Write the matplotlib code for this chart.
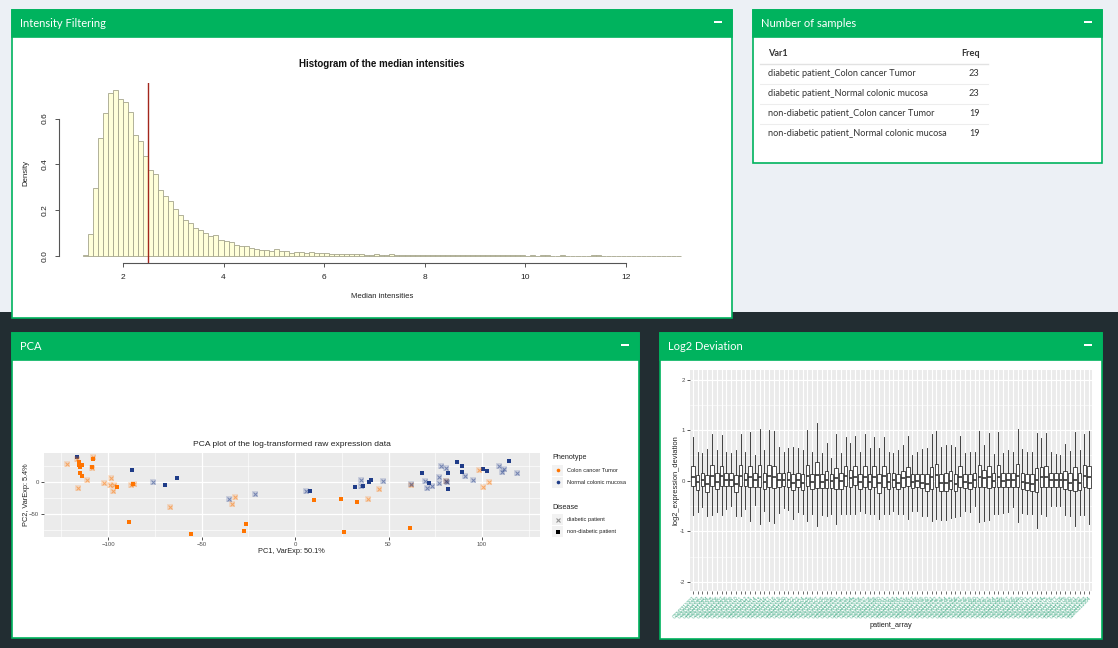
import numpy as np
import matplotlib
matplotlib.use("Agg")
import matplotlib.pyplot as plt
from matplotlib.patches import Rectangle

# ---------------- data ----------------
hist_bin_start = 1.2
hist_bin_width = 0.1
hist_density = [
    0.005, 0.097, 0.295, 0.515, 0.625, 0.713, 0.726, 0.685, 0.672, 0.629,
    0.528, 0.502, 0.437, 0.376, 0.356, 0.290, 0.263, 0.242, 0.207, 0.178,
    0.157, 0.145, 0.122, 0.113, 0.101, 0.089, 0.092, 0.070, 0.067, 0.059,
    0.048, 0.045, 0.043, 0.035, 0.032, 0.026, 0.026, 0.023, 0.031, 0.023,
    0.023, 0.015, 0.019, 0.016, 0.015, 0.019, 0.013, 0.013, 0.013, 0.009,
    0.009, 0.009, 0.009, 0.009, 0.008, 0.008, 0.006, 0.006, 0.008, 0.006,
    0.004, 0.007, 0.005, 0.005, 0.005, 0.005, 0.004, 0.004, 0.005, 0.004,
    0.003, 0.003, 0.003, 0.003, 0.003, 0.004, 0.004, 0.003, 0.002, 0.003,
    0.002, 0.003, 0.002, 0.002, 0.003, 0.002, 0.003, 0.002, 0.001, 0.002,
    0.001, 0.002, 0.002, 0.001, 0.001, 0.003, 0.001, 0.001, 0.001, 0.001,
    0.001, 0.002, 0.002, 0.001, 0.001, 0.001, 0.001, 0.001, 0.001, 0.001,
    0.001, 0.0005, 0.001, 0.0005, 0.0005, 0.001, 0.0005, 0.0005, 0.0005,
]
hist_cutoff = 2.5

table_var1 = [
    "diabetic patient_Colon cancer Tumor",
    "diabetic patient_Normal colonic mucosa",
    "non-diabetic patient_Colon cancer Tumor",
    "non-diabetic patient_Normal colonic mucosa",
]
table_freq = [23, 23, 19, 19]

# PCA points
tumor_nondiab_pc1 = [-115.4, -115.4, -113.8, -115.0, -115.0, -113.8, -108.2, -108.4, -95.0, -86.4,
                     -88.6, -55.5, -26.1, -27.5, 10.0, 24.5, 26.4, 33.4, 61.3]
tumor_nondiab_pc2 = [31.4, 27.1, 27.1, 24.0, 14.4, 10.6, 36.2, 23.4, -8.0, -3.2,
                     -62.2, -81.9, -66.0, -77.1, -28.2, -26.6, -78.7, -31.4, -71.8]
tumor_diab_pc1 = [-121.8, -116.8, -108.2, -108.6, -111.0, -115.9, -102.0, -98.4, -98.8, -96.8,
                  -97.5, -87.7, -86.0, -67.0, -32.0, -33.8, 39.1, 45.0, 61.8, 80.9,
                  98.2, 100.4, 103.9]
tumor_diab_pc2 = [28.7, 36.7, 40.4, 21.8, 3.2, -8.5, -1.1, 7.4, -3.7, -4.3,
                  -13.3, -3.7, -2.5, -38.3, -23.9, -34.6, -26.6, -10.1, -3.7, 2.7,
                  18.6, -6.9, 1.1]
normal_nondiab_pc1 = [-116.4, -87.0, -69.3, -63.0, 8.0, 32.3, 36.3, 39.6, 40.4, 67.9,
                      71.4, 81.8, 81.6, 86.4, 89.1, 89.1, 100.4, 102.5, 114.5]
normal_nondiab_pc2 = [39.9, 19.1, -4.8, 7.4, -13.8, -7.4, -5.9, 0.5, 3.7, 15.4,
                      -0.5, 15.4, -11.2, 31.4, 25.0, 16.0, 20.2, 17.6, 34.0]
normal_diab_pc1 = [-75.9, -35.2, -21.3, 5.9, 35.4, 35.5, 46.8, 61.8, 69.6, 70.4,
                   73.2, 76.8, 77.1, 78.2, 80.7, 81.4, 81.0, 90.7, 95.2, 109.1,
                   110.5, 112.0, 118.75]
normal_diab_pc2 = [0.5, -26.1, -18.6, -14.4, 3.2, -5.3, 2.1, -3.3, 2.7, -8.5,
                   -6.4, 8.5, -0.5, 26.1, 22.9, 0.5, 1.5, 10.6, 4.3, 25.0,
                   17.0, 20.2, 15.4]

# Log2 deviation boxplots (84 arrays)
box_hi = [0.86, 0.57, 0.55, 0.62, 0.92, 0.61, 0.90, 0.57, 0.54, 0.61, 0.92, 0.57, 0.97, 0.50,
          1.03, 0.61, 1.00, 0.98, 0.66, 0.57, 0.65, 0.66, 0.65, 0.60, 1.00, 0.57, 1.15, 0.55,
          0.74, 0.45, 0.92, 0.55, 0.87, 0.74, 0.88, 0.57, 0.93, 0.64, 0.86, 0.65, 0.87, 0.57,
          0.54, 0.61, 0.71, 0.88, 0.51, 0.57, 0.62, 0.65, 0.92, 0.99, 0.67, 0.71, 0.71, 0.66,
          0.88, 0.55, 0.57, 0.57, 0.98, 0.71, 0.94, 0.53, 0.96, 0.55, 0.61, 0.57, 1.03, 0.62,
          0.57, 0.57, 0.94, 0.84, 0.95, 0.57, 0.52, 0.51, 0.73, 0.59, 0.97, 0.61, 0.92, 0.99]
box_lo = [-0.68, -0.62, -0.52, -0.70, -0.68, -0.62, -0.68, -0.55, -0.50, -0.70, -0.70, -0.55,
          -0.80, -0.48, -0.86, -0.60, -0.80, -0.83, -0.63, -0.53, -0.58, -0.75, -0.62, -0.66,
          -0.80, -0.65, -0.90, -0.67, -0.70, -0.65, -0.86, -0.65, -0.65, -0.66, -0.65, -0.60,
          -0.63, -0.66, -0.65, -0.75, -0.66, -0.65, -0.60, -0.66, -0.65, -0.75, -0.60, -0.60,
          -0.70, -0.70, -0.80, -0.76, -0.78, -0.78, -0.74, -0.72, -0.70, -0.60, -0.62, -0.50,
          -0.82, -0.80, -0.78, -0.65, -0.66, -0.64, -0.62, -0.52, -0.82, -0.64, -0.66, -0.66,
          -0.94, -0.66, -0.70, -0.50, -0.50, -0.50, -0.68, -0.70, -0.90, -0.68, -0.68, -0.86]
box_q3 = [0.29, 0.11, 0.15, 0.11, 0.32, 0.15, 0.30, 0.16, 0.16, 0.11, 0.31, 0.16, 0.30, 0.15,
          0.32, 0.15, 0.32, 0.30, 0.16, 0.16, 0.17, 0.13, 0.15, 0.13, 0.32, 0.13, 0.38, 0.13,
          0.20, 0.13, 0.26, 0.15, 0.29, 0.22, 0.29, 0.13, 0.29, 0.13, 0.29, 0.13, 0.29, 0.15,
          0.15, 0.13, 0.20, 0.28, 0.13, 0.13, 0.13, 0.13, 0.28, 0.34, 0.13, 0.15, 0.19, 0.13,
          0.29, 0.13, 0.13, 0.15, 0.32, 0.21, 0.30, 0.15, 0.32, 0.15, 0.16, 0.15, 0.34, 0.15,
          0.13, 0.13, 0.25, 0.28, 0.29, 0.15, 0.15, 0.15, 0.20, 0.15, 0.28, 0.15, 0.32, 0.30]
box_q1 = [-0.10, -0.18, -0.10, -0.22, -0.10, -0.17, -0.10, -0.10, -0.10, -0.22, -0.10, -0.11,
          -0.13, -0.12, -0.12, -0.17, -0.12, -0.15, -0.13, -0.10, -0.12, -0.18, -0.12, -0.18,
          -0.10, -0.17, -0.15, -0.15, -0.15, -0.15, -0.17, -0.17, -0.10, -0.12, -0.09, -0.17,
          -0.12, -0.17, -0.12, -0.24, -0.12, -0.17, -0.13, -0.17, -0.12, -0.10, -0.15, -0.12,
          -0.15, -0.21, -0.16, -0.12, -0.21, -0.21, -0.17, -0.21, -0.13, -0.15, -0.17, -0.12,
          -0.13, -0.13, -0.15, -0.13, -0.12, -0.13, -0.13, -0.12, -0.13, -0.17, -0.18, -0.20,
          -0.22, -0.12, -0.13, -0.12, -0.12, -0.12, -0.16, -0.18, -0.20, -0.18, -0.12, -0.15]
box_med = [0.08, -0.03, 0.01, -0.07, 0.09, -0.02, 0.10, 0.01, 0.01, -0.07, 0.09, 0.01, 0.07,
           0.01, 0.08, -0.03, 0.09, 0.08, 0.01, 0.01, 0.01, -0.04, 0.01, -0.04, 0.09, -0.03,
           0.12, -0.02, 0.01, -0.01, 0.05, 0.00, 0.10, 0.05, 0.08, -0.02, 0.08, -0.02, 0.08,
           -0.05, 0.10, -0.02, 0.01, -0.04, 0.05, 0.08, -0.02, 0.00, -0.04, -0.07, 0.08, 0.11,
           -0.05, -0.05, 0.00, -0.07, 0.08, -0.02, -0.04, 0.01, 0.08, 0.05, 0.08, 0.00, 0.08,
           0.00, 0.01, 0.01, 0.10, -0.02, -0.05, -0.07, 0.01, 0.08, 0.08, 0.01, 0.01, 0.01,
           0.01, -0.04, 0.01, -0.04, 0.10, 0.07]
patient_arrays = [f"GSM{3311001 + i}" for i in range(len(box_med))]

# ---------------- figure ----------------
W, H = 1118, 648
fig = plt.figure(figsize=(W / 100, H / 100), dpi=100)
fig.patch.set_facecolor('#222D32')

bg = fig.add_axes([0, 0, 1, 1])
bg.set_xlim(0, W)
bg.set_ylim(H, 0)
bg.axis('off')
bg.add_patch(Rectangle((0, 0), W, 312, facecolor='#ECF0F5', edgecolor='none'))

GREEN = '#00B35E'
UI = 'Lato'
RF = 'Liberation Sans'


def panel(x0, y0, x1, y1, title):
    bg.add_patch(Rectangle((x0, y0), x1 - x0, y1 - y0, facecolor='white', edgecolor=GREEN, lw=1.2))
    bg.add_patch(Rectangle((x0, y0), x1 - x0, 27, facecolor=GREEN, edgecolor=GREEN, lw=1.2))
    bg.text(x0 + 8, y0 + 13.5, title, color='white', fontsize=8.0, family=UI,
            ha='left', va='center')
    bg.add_patch(Rectangle((x1 - 18, y0 + 10.5), 8, 2.2, facecolor='white', edgecolor='none'))


def px_axes(x0, y0, x1, y1):
    return fig.add_axes([x0 / W, 1 - y1 / H, (x1 - x0) / W, (y1 - y0) / H])


panel(12, 10, 732, 318, "Intensity Filtering")
panel(753, 10, 1102, 163, "Number of samples")
panel(12, 333, 639, 638, "PCA")
panel(660, 333, 1102, 639, "Log2 Deviation")

# ---------------- histogram (base R style) ----------------
edges = hist_bin_start + hist_bin_width * np.arange(len(hist_density) + 1)
hx = px_axes(58.8, 83, 705, 262.6)
hx.bar(edges[:-1], hist_density, width=hist_bin_width, align='edge',
       facecolor='#FFFFD9', edgecolor='#A5A58C', linewidth=0.6)
span = edges[-1] - edges[0]
hx.set_xlim(edges[0] - 0.04 * span, edges[-1] + 0.04 * span)
ymax = max(hist_density)
hx.set_ylim(-0.04 * ymax, 1.04 * ymax)
hx.axvline(hist_cutoff, color='#A3261C', lw=1.0)
hx.set_facecolor('none')
for s in ['top', 'right']:
    hx.spines[s].set_visible(False)
hx.spines['left'].set_bounds(0, 0.6)
hx.spines['bottom'].set_bounds(2, 12)
for s in ['left', 'bottom']:
    hx.spines[s].set_color('#555555')
    hx.spines[s].set_linewidth(0.8)
hx.set_xticks([2, 4, 6, 8, 10, 12])
hx.set_yticks([0.0, 0.2, 0.4, 0.6])
hx.set_yticklabels(['0.0', '0.2', '0.4', '0.6'])
hx.tick_params(axis='x', length=3, width=0.7, color='#555555', pad=5.0, labelsize=6, labelcolor='#222222')
hx.tick_params(axis='y', length=3, width=0.7, color='#555555', pad=4.5, labelsize=6, labelcolor='#222222')
for lbl in hx.get_xticklabels() + hx.get_yticklabels():
    lbl.set_family(RF)
for lbl in hx.get_yticklabels():
    lbl.set_rotation(90)
    lbl.set_va('center')
bg.text(381.9, 64.3, "Histogram of the median intensities", family=RF, fontsize=7, fontweight='bold',
        ha='center', va='center', color='#111111')
bg.text(381.9, 296, "Median intensities", family=RF, fontsize=5.6, ha='center', va='center', color='#222222')
bg.text(26, 172.8, "Density", family=RF, fontsize=5.6, ha='center', va='center', rotation=90, color='#222222')

# ---------------- table ----------------
tx0, tx1 = 760, 988
bg.text(768, 54, "Var1", family=UI, fontsize=6.6, fontweight='bold', ha='left', va='center', color='#333333')
bg.text(979.7, 54, "Freq", family=UI, fontsize=6.6, fontweight='bold', ha='right', va='center', color='#333333')
bg.plot([tx0, tx1], [64.3, 64.3], color='#E2E2E2', lw=1.0)
for i, (name, fq) in enumerate(zip(table_var1, table_freq)):
    yy = 73.7 + 20 * i
    bg.text(768, yy, name, family=UI, fontsize=6.6, ha='left', va='center', color='#333333')
    bg.text(979.7, yy, str(fq), family=UI, fontsize=6.6, ha='right', va='center', color='#333333')
    if i < len(table_var1) - 1:
        bg.plot([tx0, tx1], [yy + 10.6, yy + 10.6], color='#EDEDED', lw=0.8)

# ---------------- PCA (ggplot style) ----------------
GG_BG = '#EBEBEB'
px = px_axes(43.5, 452.7, 540, 536.7)
px.set_facecolor(GG_BG)
px.set_xlim(-134.5, 131)
px.set_ylim(-86, 46.7)
px.set_xticks([-100, -50, 0, 50, 100])
px.set_xticks([-125, -75, -25, 25, 75, 125], minor=True)
px.set_yticks([-50, 0])
px.set_yticks([-75, -25, 25], minor=True)
px.grid(True, which='major', color='white', lw=0.9)
px.grid(True, which='minor', color='white', lw=0.45)
px.set_axisbelow(True)
for s in px.spines.values():
    s.set_visible(False)
px.tick_params(which='major', length=2, width=0.6, color='#333333', pad=1.5, labelsize=4.3, labelcolor='#4D4D4D')
px.tick_params(which='minor', length=0)
for lbl in px.get_xticklabels() + px.get_yticklabels():
    lbl.set_family(RF)
ORANGE = '#FF7400'
NAVY = '#1F3C88'
px.scatter(tumor_nondiab_pc1, tumor_nondiab_pc2, marker='s', s=9, color=ORANGE, lw=0, zorder=3)
px.scatter(normal_nondiab_pc1, normal_nondiab_pc2, marker='s', s=9, color=NAVY, lw=0, zorder=3)
for xs, ys, c in [(tumor_diab_pc1, tumor_diab_pc2, ORANGE), (normal_diab_pc1, normal_diab_pc2, NAVY)]:
    px.scatter(xs, ys, marker='s', s=14, color=c, alpha=0.16, lw=0, zorder=3)
    px.scatter(xs, ys, marker='x', s=8, color=c, alpha=0.5, lw=0.75, zorder=3)
bg.text(291.8, 444, "PCA plot of the log-transformed raw expression data", family=RF, fontsize=6.1,
        ha='center', va='center', color='#222222')
bg.text(291.8, 551.7, "PC1, VarExp: 50.1%", family=RF, fontsize=5.3, ha='center', va='center', color='#222222')
bg.text(27, 494.7, "PC2, VarExp: 5.4%", family=RF, fontsize=5.3, ha='center', va='center',
        rotation=90, color='#222222')

# legend
bg.text(552, 457.5, "Phenotype", family=RF, fontsize=5.2, ha='left', va='center', color='#222222')
bg.text(552, 507.3, "Disease", family=RF, fontsize=5.2, ha='left', va='center', color='#222222')
leg_items = [
    (470.3, "Colon cancer Tumor", 'o', ORANGE, 1.0),
    (482.3, "Normal colonic mucosa", 'o', NAVY, 1.0),
    (519.7, "diabetic patient", 'x', '#555555', 0.6),
    (531.7, "non-diabetic patient", 's', '#000000', 1.0),
]
for yy, lab, mk, col, al in leg_items:
    bg.add_patch(Rectangle((552, yy - 5.5), 11, 11, facecolor='#F2F2F2', edgecolor='none'))
    if mk == 'x':
        bg.plot([557.5], [yy], marker='x', ms=2.8, mew=0.8, color=col, alpha=al)
    elif mk == 's':
        bg.plot([557.5], [yy], marker='s', ms=2.8, mew=0, color=col)
    else:
        bg.plot([557.5], [yy], marker='o', ms=2.6, mew=0, color=col)
    bg.text(566.7, yy, lab, family=RF, fontsize=4.1, ha='left', va='center', color='#222222')

# ---------------- Log2 deviation boxplots ----------------
bx = px_axes(690, 370, 1092, 591)
bx.set_facecolor(GG_BG)
positions = np.arange(1, len(box_med) + 1)
stats = [dict(med=m, q1=a, q3=b, whislo=lo, whishi=hi)
         for m, a, b, lo, hi in zip(box_med, box_q1, box_q3, box_lo, box_hi)]
bx.bxp(stats, positions=positions, widths=0.75, showfliers=False, showcaps=False, patch_artist=True,
       boxprops=dict(facecolor='white', edgecolor='#333333', linewidth=0.6),
       medianprops=dict(color='#333333', linewidth=1.2),
       whiskerprops=dict(color='#333333', linewidth=0.65))
bx.set_xlim(0.4, len(box_med) + 0.6)
bx.set_ylim(-2.18, 2.19)
bx.set_yticks([-2, -1, 0, 1, 2])
bx.set_yticklabels(['-2', '-1', '0', '1', '2'])
bx.set_yticks([-1.5, -0.5, 0.5, 1.5], minor=True)
bx.set_xticks(positions)
bx.set_xticklabels(patient_arrays, rotation=45, ha='right', rotation_mode='anchor')
bx.grid(True, which='major', color='white', lw=0.8)
bx.grid(True, which='minor', axis='y', color='white', lw=0.4)
bx.set_axisbelow(True)
for s in bx.spines.values():
    s.set_visible(False)
bx.tick_params(axis='y', which='major', length=2, width=0.6, color='#333333', pad=1.5,
               labelsize=4.3, labelcolor='#4D4D4D')
bx.tick_params(axis='y', which='minor', length=0)
bx.tick_params(axis='x', length=2, width=0.5, color='#333333', pad=1.0, labelsize=3.5, labelcolor='#47AD88')
for lbl in bx.get_xticklabels() + bx.get_yticklabels():
    lbl.set_family(RF)
bg.text(676, 480.5, "log2_expression_deviation", family=RF, fontsize=5.4, ha='center', va='center',
        rotation=90, color='#222222')
bg.text(891, 625.5, "patient_array", family=RF, fontsize=5.3, ha='center', va='center', color='#222222')

fig.savefig('out.png', dpi=100, facecolor=fig.get_facecolor())
